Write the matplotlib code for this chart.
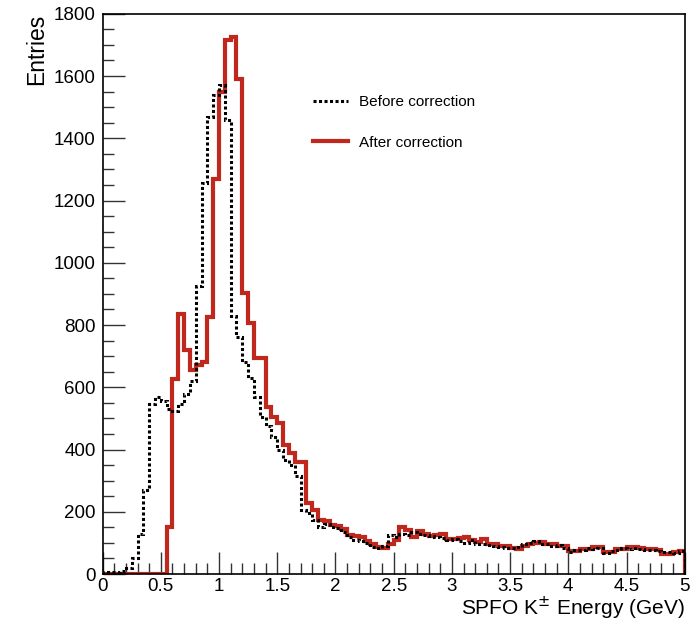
import matplotlib
matplotlib.use("Agg")
import matplotlib.pyplot as plt
import numpy as np
from matplotlib.lines import Line2D
from matplotlib.ticker import MultipleLocator, FormatStrFormatter

plt.rcParams['font.family'] = ['Liberation Sans', 'DejaVu Sans']

# bin edges: 100 bins of 0.05 GeV from 0 to 5
bin_edges = np.linspace(0, 5, 101)

# "Before correction" entries per bin
before = [
    5, 5, 8, 10, 18, 50, 130, 270, 545, 570,
    555, 530, 525, 545, 580, 620, 925, 1255, 1470, 1540,
    1570, 1460, 830, 760, 680, 630, 570, 505, 475, 440,
    400, 365, 350, 315, 205, 195, 175, 150, 160, 150,
    148, 135, 120, 110, 105, 100, 88, 85, 90, 125,
    120, 130, 125, 135, 128, 125, 122, 118, 115, 108,
    112, 105, 100, 108, 98, 95, 92, 90, 88, 85,
    82, 88, 95, 100, 105, 98, 95, 90, 92, 85,
    70, 78, 76, 82, 80, 84, 68, 75, 78, 82,
    80, 84, 80, 78, 76, 74, 70, 72, 68, 75,
]

# "After correction" entries per bin
after = [
    0, 0, 0, 0, 0, 0, 0, 0, 0, 0,
    0, 150, 625, 835, 720, 655, 670, 680, 825, 1270,
    1550, 1715, 1725, 1590, 902, 806, 695, 695, 538, 506,
    484, 415, 389, 361, 361, 228, 206, 174, 171, 159,
    155, 145, 125, 123, 120, 107, 96, 86, 84, 96,
    110, 150, 140, 118, 139, 130, 123, 125, 129, 113,
    113, 115, 120, 110, 102, 113, 96, 96, 91, 91,
    85, 80, 90, 96, 100, 104, 96, 96, 89, 89,
    73, 75, 80, 80, 86, 86, 70, 72, 80, 80,
    86, 86, 84, 80, 80, 78, 64, 64, 70, 73,
]

red = '#c1281d'

fig = plt.figure(figsize=(6.98, 6.27), dpi=100)
ax = fig.add_axes([0.147, 0.0845, 0.834, 0.8935])

ax.stairs(after, bin_edges, color=red, linewidth=3.0, zorder=2)
ax.stairs(before, bin_edges, color='black', linewidth=2.2,
          linestyle=(0, (1, 0.8)), zorder=3)

ax.set_xlim(0, 5)
ax.set_ylim(0, 1800)

# ROOT-like ticks: inside, only on left and bottom
ax.xaxis.set_major_locator(MultipleLocator(0.5))
ax.xaxis.set_minor_locator(MultipleLocator(0.1))
ax.xaxis.set_major_formatter(FormatStrFormatter('%g'))
ax.yaxis.set_major_locator(MultipleLocator(200))
ax.yaxis.set_minor_locator(MultipleLocator(50))
ax.tick_params(which='both', direction='in', top=False, right=False,
               labelsize=13.5, width=1, color='#333333')
ax.tick_params(which='major', length=16, pad=5)
ax.tick_params(axis='x', which='major', pad=3)
ax.tick_params(which='minor', length=8)
for s in ax.spines.values():
    s.set_linewidth(1.2)

ax.set_ylabel('Entries', fontsize=16.5, loc='top', labelpad=4)
ax.set_xlabel(r'SPFO K$^{\pm}$ Energy (GeV)', fontsize=15, loc='right', labelpad=0)

handles = [
    Line2D([], [], color='black', linewidth=2.2, linestyle=(0, (1, 0.8))),
    Line2D([], [], color=red, linewidth=3.0),
]
ax.legend(handles, ['Before correction', 'After correction'],
          loc='upper left', bbox_to_anchor=(0.361, 0.855), frameon=False,
          borderpad=0, borderaxespad=0,
          fontsize=11, handlelength=2.3, handletextpad=0.7, labelspacing=1.75)

fig.savefig('out.png', dpi=100)
